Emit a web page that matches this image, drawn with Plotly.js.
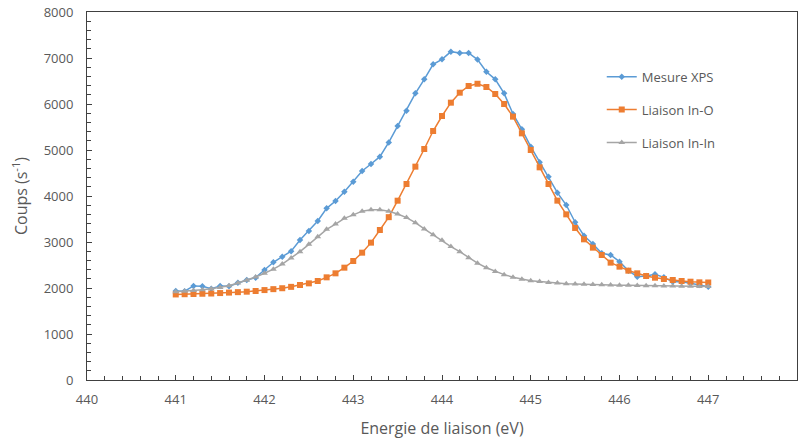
<!DOCTYPE html>
<html>
<head>
<meta charset="utf-8">
<script src="https://cdn.plot.ly/plotly-3.0.1.min.js"></script>
<style>html,body{margin:0;padding:0;background:#fff;}#chart{width:805px;height:441px;}</style>
</head>
<body>
<div id="chart"></div>
<script>
const energie = [441.0,441.1,441.2,441.3,441.4,441.5,441.6,441.7,441.8,441.9,
  442.0,442.1,442.2,442.3,442.4,442.5,442.6,442.7,442.8,442.9,
  443.0,443.1,443.2,443.3,443.4,443.5,443.6,443.7,443.8,443.9,
  444.0,444.1,444.2,444.3,444.4,444.5,444.6,444.7,444.8,444.9,
  445.0,445.1,445.2,445.3,445.4,445.5,445.6,445.7,445.8,445.9,
  446.0,446.1,446.2,446.3,446.4,446.5,446.6,446.7,446.8,446.9,447.0];

const mesureXPS = [1935,1930,2045,2040,1985,2045,2040,2115,2175,2225,
  2390,2560,2680,2800,3043,3239,3457,3732,3891,4094,
  4311,4543,4696,4855,5165,5522,5855,6232,6536,6862,
  6971,7138,7110,7110,6965,6700,6536,6232,5783,5449,
  5072,4732,4420,4072,3804,3430,3137,2957,2754,2717,
  2572,2376,2246,2261,2297,2232,2137,2137,2101,2065,2028];

const liaisonInO = [1860,1865,1870,1875,1880,1890,1900,1910,1920,1935,
  1955,1975,1995,2025,2065,2101,2152,2232,2319,2442,
  2587,2768,2986,3261,3540,3898,4261,4638,5022,5413,
  5739,6029,6246,6391,6440,6370,6217,6000,5725,5362,
  5000,4623,4261,3899,3601,3305,3058,2877,2717,2551,
  2464,2377,2319,2261,2224,2196,2174,2152,2137,2123,2120];

const liaisonInIn = [1920,1930,1945,1960,1985,2010,2050,2110,2170,2240,
  2320,2410,2520,2650,2790,2950,3116,3275,3390,3514,
  3590,3670,3700,3700,3670,3610,3530,3420,3285,3155,
  3040,2900,2790,2660,2540,2440,2360,2290,2235,2190,
  2160,2140,2120,2108,2095,2088,2080,2075,2070,2065,
  2060,2058,2055,2050,2048,2045,2043,2040,2038,2035,2030];

const seriesNames = ['Mesure XPS','Liaison In-O','Liaison In-In'];
const xTitle = 'Energie de liaison (eV)';
const yTitle = 'Coups (s<sup>-1</sup>)';

const font = 'Open Sans, Noto Sans, sans-serif';
const traces = [
  {x: energie, y: mesureXPS, name: seriesNames[0], legendgroup: 'a', mode: 'lines+markers',
   line: {color: '#5B9BD5', width: 1.5}, marker: {symbol: 'diamond', size: 5, color: '#5B9BD5'}},
  {x: energie, y: liaisonInO, name: seriesNames[1], legendgroup: 'b', mode: 'lines+markers',
   line: {color: '#ED7D31', width: 1.5}, marker: {symbol: 'square', size: 6, color: '#ED7D31'}},
  {x: energie, y: liaisonInIn, name: seriesNames[2], legendgroup: 'c', mode: 'lines+markers',
   line: {color: '#A5A5A5', width: 1.5}, marker: {symbol: 'triangle-up', size: 6, color: '#A5A5A5'}}
];

const layout = {
  width: 805, height: 441,
  margin: {l: 87, r: 8, t: 12, b: 61},
  paper_bgcolor: '#fff', plot_bgcolor: '#fff',
  font: {family: font, color: '#595959', size: 13},
  showlegend: true,
  legend: {x: 0.725, y: 0.865, xanchor: 'left', yanchor: 'top', bgcolor: 'rgba(0,0,0,0)',
           font: {family: font, size: 13, color: '#595959'}, tracegroupgap: 13},
  xaxis: {range: [440, 448], dtick: 1, tick0: 440, showgrid: false, zeroline: false,
          showline: true, linecolor: '#404040', linewidth: 1, mirror: true,
          ticks: 'inside', ticklen: 5, tickcolor: '#404040', ticklabelstandoff: 7,
          minor: {dtick: 0.2, ticks: 'inside', ticklen: 4, tickcolor: '#404040', showgrid: false},
          tickfont: {size: 13, color: '#595959'},
          title: {text: xTitle, font: {size: 16, color: '#595959'}, standoff: 16}},
  yaxis: {range: [0, 8000], dtick: 1000, showgrid: false, zeroline: false,
          showline: true, linecolor: '#404040', linewidth: 1, mirror: true,
          ticks: 'inside', ticklen: 5, tickcolor: '#404040', ticklabelstandoff: 10,
          minor: {dtick: 200, ticks: 'inside', ticklen: 4, tickcolor: '#404040', showgrid: false},
          tickfont: {size: 13, color: '#595959'},
          title: {text: yTitle, font: {size: 16, color: '#595959'}, standoff: 12}}
};

Plotly.newPlot('chart', traces, layout, {displayModeBar: false, staticPlot: true});
</script>
</body>
</html>
